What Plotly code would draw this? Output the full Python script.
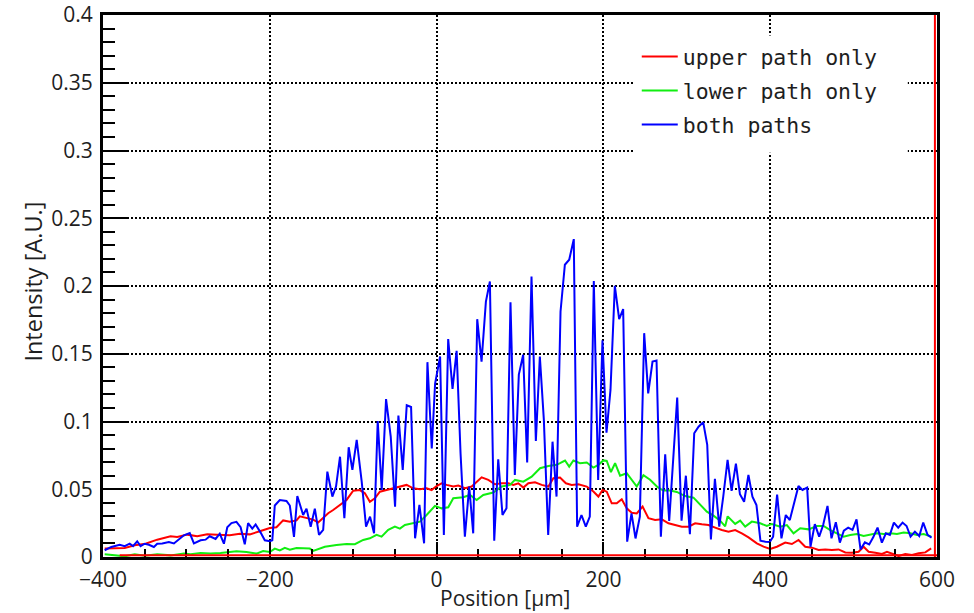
import plotly.graph_objects as go

# ---- data ----
upper_x = [-398, -390, -374, -362, -349, -335, -327, -319, -311, -299, -287, -275, -263, -248, -236, -224,
           -212, -200, -192, -184, -176, -168, -164, -156, -148, -142, -136, -130, -124, -116, -108, -100,
           -92, -86, -80, -74, -68, -60, -52, -44, -36, -28, -20, -12, -6, 0, 6, 12, 20, 26, 34, 42, 48, 54,
           62, 70, 78, 86, 92, 98, 104, 110, 118, 126, 134, 140, 148, 155, 162, 170, 180, 188, 194, 199, 204,
           210, 216, 222, 228, 234, 240, 247, 254, 262, 270, 278, 286, 294, 302, 310, 318, 326, 334, 342, 350,
           358, 366, 374, 384, 392, 400, 408, 418, 426, 434, 442, 450, 458, 466, 474, 482, 490, 498, 506, 512,
           518, 526, 534, 540, 548, 554, 562, 570, 578, 586, 593]
upper_y = [0.0062, 0.0062, 0.0066, 0.0086, 0.0098, 0.0128, 0.014, 0.0153, 0.0148, 0.0165, 0.0153, 0.0167,
           0.0165, 0.016, 0.0172, 0.0167, 0.019, 0.0214, 0.022, 0.027, 0.026, 0.027, 0.030, 0.0288, 0.0276,
           0.0254, 0.0288, 0.0323, 0.0347, 0.0384, 0.0421, 0.0489, 0.0494, 0.047, 0.0408, 0.0433, 0.0482,
           0.0494, 0.0507, 0.0524, 0.0532, 0.0507, 0.05, 0.0507, 0.0494, 0.0524, 0.0544, 0.0532, 0.052, 0.0527,
           0.0507, 0.052, 0.0556, 0.0588, 0.0569, 0.0537, 0.0544, 0.0544, 0.0532, 0.0544, 0.0512, 0.0544,
           0.0551, 0.0532, 0.052, 0.0581, 0.0586, 0.0544, 0.0532, 0.0537, 0.052, 0.0483, 0.0446, 0.0494,
           0.0482, 0.0396, 0.0396, 0.0426, 0.0359, 0.0327, 0.0322, 0.0372, 0.0286, 0.0273, 0.0278, 0.0249,
           0.0236, 0.0224, 0.0224, 0.0249, 0.0241, 0.0236, 0.0217, 0.0199, 0.0187, 0.0199, 0.0175, 0.0145,
           0.0101, 0.0076, 0.0059, 0.0076, 0.0106, 0.0096, 0.0126, 0.0076, 0.0069, 0.0052, 0.0056, 0.0052,
           0.0056, 0.0034, 0.0032, 0.0039, 0.0076, 0.0039, 0.0032, 0.0022, 0.0039, 0.0022, 0.0007, 0.0022,
           0.0015, 0.0027, 0.0034, 0.0064]

lower_x = [-398, -382, -374, -362, -350, -335, -319, -303, -295, -283, -271, -259, -251, -240, -228, -216,
           -208, -200, -194, -188, -182, -176, -168, -160, -152, -148, -134, -120, -108, -98, -88, -80, -72,
           -66, -58, -50, -44, -38, -28, -20, -12, -2, 6, 14, 20, 32, 40, 48, 56, 68, 78, 88, 94, 104, 114,
           124, 134, 144, 148, 154, 159, 164, 172, 180, 188, 194, 200, 204, 209, 214, 220, 228, 240, 248, 256,
           265, 272, 280, 288, 298, 308, 316, 324, 332, 340, 346, 349, 358, 364, 370, 378, 388, 396, 402, 412,
           420, 428, 436, 446, 456, 464, 472, 480, 488, 496, 504, 512, 520, 528, 536, 544, 552, 560, 568, 576,
           584, 593]
lower_y = [0.002, 0.0012, 0.0005, 0.002, 0.001, 0.002, 0.0012, 0.0025, 0.002, 0.003, 0.0025, 0.003, 0.0037,
           0.0042, 0.0037, 0.0025, 0.0044, 0.0037, 0.0062, 0.0049, 0.0067, 0.0054, 0.0067, 0.0062, 0.0062,
           0.0045, 0.0076, 0.0089, 0.0096, 0.0094, 0.0126, 0.0138, 0.0163, 0.015, 0.02, 0.0224, 0.0209, 0.0236,
           0.0249, 0.0261, 0.031, 0.0377, 0.0359, 0.0367, 0.0434, 0.0441, 0.0458, 0.0421, 0.0458, 0.0476,
           0.052, 0.0532, 0.0569, 0.0556, 0.0593, 0.0655, 0.0672, 0.068, 0.0692, 0.0712, 0.0667, 0.0712,
           0.0692, 0.0697, 0.066, 0.068, 0.0713, 0.0709, 0.0627, 0.0692, 0.06, 0.0618, 0.052, 0.0603, 0.057,
           0.0515, 0.049, 0.049, 0.048, 0.045, 0.0438, 0.0385, 0.0335, 0.0305, 0.0268, 0.0226, 0.030, 0.0244,
           0.0268, 0.0224, 0.0261, 0.0249, 0.0229, 0.0244, 0.0224, 0.0236, 0.0175, 0.0212, 0.0204, 0.0229,
           0.0229, 0.0199, 0.0175, 0.015, 0.0163, 0.017, 0.0155, 0.0163, 0.0175, 0.017, 0.0175, 0.017, 0.018,
           0.0175, 0.0163, 0.017, 0.015]

both_x = [-398, -390, -380, -374, -368, -364, -359, -355, -350, -345, -339, -335, -329, -321, -315, -309,
          -303, -296, -291, -283, -277, -272, -265, -260, -255, -251, -246, -240, -235, -230, -226, -221, -217,
          -211, -206, -200, -197, -194, -188, -180, -176, -171, -167, -160, -156, -151, -146, -141, -136, -131,
          -125, -120.6, -115.8, -110.6, -105.4, -101, -95.8, -89.8, -84.6, -79.8, -75, -70.6, -65.8, -60.6,
          -55, -49.8, -45.8, -40.6, -35.8, -30.6, -25.8, -20.6, -15, -11, -5.8, -1.8, 4.2, 8.7, 13.9, 19.1, 24,
          28.7, 33.9, 39.1, 43.9, 48.7, 53.9, 59.1, 63.9, 69.1, 73.9, 79, 83.8, 88.6, 93.8, 98.6, 103.8, 108.6,
          113.8, 119, 123.8, 128.6, 133.8, 139, 143.8, 148.6, 153.8, 159, 164.5, 168.5, 173.7, 178.9, 183.7,
          188.5, 193.7, 198.9, 203.7, 208.5, 213.7, 218.9, 223.7, 228.5, 233.7, 238.5, 243.7, 248.9, 253.7,
          258.9, 263.7, 268.9, 274.1, 278.9, 283.7, 288.5, 293.7, 298.9, 303.7, 308.9, 314.1, 319.7, 324.5,
          328.9, 333.7, 338.9, 343.7, 348.9, 353.7, 358.9, 363.7, 368.7, 373.9, 378.7, 383.5, 388.3, 394.3,
          399.5, 403.5, 408.3, 413.5, 418.7, 423.5, 428.7, 433.9, 438.7, 444.3, 448.3, 453.5, 458.7, 463.5,
          468.7, 473.5, 478.7, 483.5, 488.3, 493.5, 498.7, 503.5, 508.3, 513.5, 518.7, 523.5, 528.7, 533.9,
          538.7, 543.5, 548.3, 553.5, 558.7, 563.5, 568.3, 573.5, 578.7, 583.5, 588.7, 593.5]
both_y = [0.005, 0.0074, 0.009, 0.008, 0.0098, 0.008, 0.0116, 0.008, 0.0098, 0.009, 0.0074, 0.0098, 0.010,
          0.011, 0.010, 0.0128, 0.016, 0.0177, 0.010, 0.0123, 0.0128, 0.0153, 0.0133, 0.0172, 0.0098, 0.022,
          0.025, 0.026, 0.022, 0.0094, 0.025, 0.021, 0.024, 0.018, 0.0123, 0.0116, 0.0123, 0.038, 0.042,
          0.0414, 0.038, 0.0148, 0.045, 0.031, 0.0357, 0.0224, 0.0357, 0.0163, 0.020, 0.063, 0.0446, 0.052,
          0.074, 0.0286, 0.081, 0.0643, 0.0864, 0.0557, 0.0224, 0.0298, 0.0175, 0.1004, 0.0495, 0.1165,
          0.0889, 0.0372, 0.1044, 0.0643, 0.112, 0.1107, 0.0138, 0.0384, 0.0101, 0.1438, 0.0801, 0.128,
          0.148, 0.0162, 0.1608, 0.124, 0.1521, 0.0766, 0.015, 0.0519, 0.0175, 0.1755, 0.1442, 0.1885, 0.2033,
          0.012, 0.0721, 0.031, 0.036, 0.188, 0.0605, 0.1346, 0.1492, 0.0697, 0.207, 0.0857, 0.1479, 0.1012,
          0.0162, 0.0851, 0.0446, 0.1812, 0.2157, 0.2194, 0.2346, 0.0224, 0.031, 0.0224, 0.0298, 0.2036,
          0.0568, 0.160, 0.0918, 0.1233, 0.2001, 0.1756, 0.183, 0.0113, 0.0322, 0.0137, 0.0298, 0.1652,
          0.1208, 0.1442, 0.145, 0.015, 0.0758, 0.0266, 0.0716, 0.1177, 0.0268, 0.060, 0.0168, 0.0913, 0.0962,
          0.0994, 0.0828, 0.013, 0.0577, 0.0224, 0.0446, 0.0716, 0.0488, 0.0689, 0.0463, 0.0408, 0.0605,
          0.0445, 0.0384, 0.012, 0.0113, 0.0111, 0.015, 0.046, 0.0138, 0.031, 0.0273, 0.0396, 0.0524, 0.0495,
          0.0512, 0.0076, 0.0243, 0.015, 0.0236, 0.0377, 0.0138, 0.0256, 0.0106, 0.0195, 0.0217, 0.020,
          0.0278, 0.0056, 0.0108, 0.0093, 0.0145, 0.0217, 0.0106, 0.0175, 0.0163, 0.0254, 0.0217, 0.0254,
          0.0229, 0.015, 0.0187, 0.0155, 0.0254, 0.0163, 0.0143]

series_names = ["upper path only", "lower path only", "both paths"]
series_colors = ["#ff0000", "#11ee11", "#0000ff"]

x_range = [-400, 600]
y_range = [0, 0.4]

TICK_FONT = dict(family="Open Sans", size=21, color="#1e1e1e")

fig = go.Figure()
for name, xs, ys, col in zip(series_names, [upper_x, lower_x, both_x],
                             [upper_y, lower_y, both_y], series_colors):
    fig.add_trace(go.Scatter(x=xs, y=ys, mode="lines", name=name, legendgroup=name,
                             line=dict(color=col, width=2)))

fig.update_layout(
    width=974, height=613,
    margin=dict(l=103, r=37, t=15, b=56, autoexpand=False),
    paper_bgcolor="white", plot_bgcolor="white",
    showlegend=True,
    legend=dict(x=0.64, y=0.961, xanchor="left", yanchor="top",
                bgcolor="white", borderwidth=0, itemwidth=36,
                traceorder="grouped", tracegroupgap=3,
                font=dict(family="DejaVu Sans Mono", size=21.5, color="#1e1e1e")),
    xaxis=dict(range=x_range, tick0=-400, dtick=200, ticks="inside", ticklen=15, tickwidth=2,
               tickcolor="black", showgrid=True, gridcolor="black", gridwidth=2, griddash="2px,2px",
               showline=True, linecolor="black", linewidth=3, mirror=True, zeroline=False,
               automargin=False, tickfont=TICK_FONT, ticklabelstandoff=2, ticklabeloverflow="allow",
               minor=dict(dtick=50, ticks="inside", ticklen=8, tickwidth=2, tickcolor="black",
                          showgrid=False)),
    yaxis=dict(range=y_range, tick0=0, dtick=0.05, ticks="inside", ticklen=24, tickwidth=2,
               tickcolor="black", showgrid=True, gridcolor="black", gridwidth=2, griddash="2px,2px",
               showline=True, linecolor="black", linewidth=3, mirror=True, zeroline=False,
               automargin=False, tickfont=TICK_FONT, ticklabelstandoff=3, ticklabeloverflow="allow",
               minor=dict(dtick=0.01, ticks="inside", ticklen=12, tickwidth=2, tickcolor="black",
                          showgrid=False)),
    annotations=[
        dict(text="Intensity [A.U.]", xref="paper", yref="paper", x=-0.084, y=0.508,
             xanchor="center", yanchor="middle", textangle=-90, showarrow=False,
             font=dict(family="Open Sans", size=23.5, color="#1e1e1e")),
        dict(text="Position [µm]", xref="paper", yref="paper", x=0.483, y=-0.0755,
             xanchor="center", yanchor="middle", showarrow=False,
             font=dict(family="Open Sans", size=21, color="#1e1e1e")),
    ],
    shapes=[
        # white panel behind the legend (hides the grid there, as in the reference)
        dict(type="rect", xref="paper", yref="paper", x0=0.6355, x1=0.965, y0=0.746, y1=0.962,
             fillcolor="white", line=dict(width=0), layer="above"),
        dict(type="line", xref="x", yref="paper", x0=-380, x1=600, y0=0.003, y1=0.003,
             line=dict(color="#ff0000", width=2), layer="above"),
        dict(type="line", xref="paper", yref="paper", x0=0.9975, x1=0.9975, y0=0, y1=1,
             line=dict(color="#ff0000", width=2), layer="above"),
    ],
)

fig.write_html("out.html")
